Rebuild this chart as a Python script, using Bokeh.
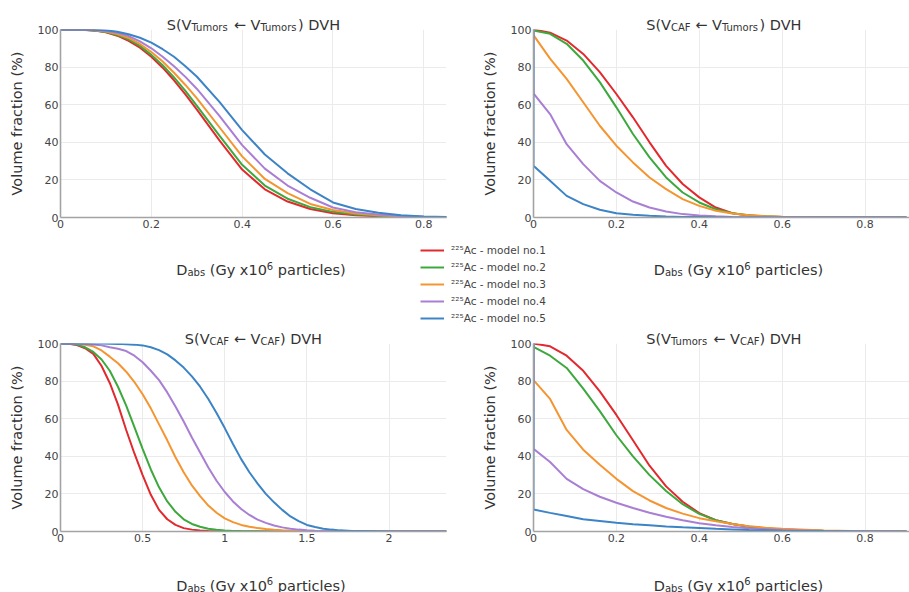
from bokeh.plotting import figure
from bokeh.models import Label, Legend, LegendItem, FixedTicker, NumeralTickFormatter, Range1d
from bokeh.layouts import row, column
from bokeh.embed import file_html
from bokeh.resources import INLINE

# ---------------- data ----------------
model_names = ["²²⁵Ac - model no.1", "²²⁵Ac - model no.2", "²²⁵Ac - model no.3",
               "²²⁵Ac - model no.4", "²²⁵Ac - model no.5"]
model_colors = ["#e2292e", "#3da83d", "#f59531", "#a97fd4", "#3d84c6"]

# S(V_Tumors <- V_Tumors)
tt_dose = [0, 0.05, 0.075, 0.1, 0.125, 0.15, 0.175, 0.2, 0.225, 0.25, 0.275, 0.3, 0.35, 0.4,
           0.45, 0.5, 0.55, 0.6, 0.65, 0.7, 0.75, 0.8, 0.85]
tt_m1 = [100, 99.8, 99.4, 98.5, 96.7, 94, 90.3, 85.5, 79.7, 73, 65.5, 57.5, 41, 25.5,
         15, 8.5, 4.5, 2.3, 1.2, 0.6, 0.3, 0.1, 0.05]
tt_m2 = [100, 99.8, 99.5, 98.7, 97.1, 94.8, 91.3, 86.5, 81, 74.5, 67.3, 59.5, 43.5, 28,
         17, 10, 5.5, 3, 1.6, 0.9, 0.4, 0.2, 0.1]
tt_m3 = [100, 99.8, 99.6, 98.9, 97.6, 95.5, 92.3, 88, 83, 77, 70.5, 63.5, 48, 32.5,
         20.5, 13, 7.2, 4, 2.1, 1.2, 0.6, 0.3, 0.1]
tt_m4 = [100, 99.9, 99.7, 99.2, 98.2, 96.5, 93.7, 90, 85.5, 80.5, 74.8, 68.5, 54, 38.5,
         26, 17, 10.5, 5.3, 2.8, 1.6, 0.8, 0.4, 0.2]
tt_m5 = [100, 100, 99.9, 99.6, 98.8, 97.5, 95.6, 93, 89.5, 85.5, 80.5, 75, 61.5, 46.5,
         33.5, 23.5, 15, 8, 4.5, 2.5, 1.2, 0.5, 0.2]

# S(V_CAF <- V_Tumors)
ct_dose = [0, 0, 0.04, 0.08, 0.12, 0.16, 0.2, 0.24, 0.28, 0.32, 0.36, 0.4, 0.44, 0.48, 0.52, 0.56, 0.6, 0.7, 0.8, 0.9]
ct_m1 = [100, 100, 98.3, 94.1, 87, 77.3, 65.7, 53.3, 40, 27.5, 17.8, 10.7, 5.3, 2.3, 1.0, 0.5, 0.3, 0.1, 0.02, 0]
ct_m2 = [100, 99.5, 97.7, 92.4, 83.5, 72, 58.6, 44.4, 32, 21.3, 13.3, 8, 4.4, 2.3, 1.2, 0.6, 0.3, 0.1, 0.02, 0]
ct_m3 = [100, 97, 84.5, 73.7, 61.3, 48.8, 38.2, 29.3, 21.3, 15.1, 9.8, 6.2, 3.6, 2.1, 1.2, 0.7, 0.4, 0.1, 0, 0]
ct_m4 = [100, 66, 55, 39, 28.4, 19.5, 13.3, 8.5, 5.3, 3.2, 1.8, 1.1, 0.6, 0.3, 0.15, 0.1, 0.05, 0, 0, 0]
ct_m5 = [100, 27.5, 19.5, 11.5, 7.1, 4.1, 2.3, 1.4, 0.9, 0.5, 0.3, 0.2, 0.1, 0.05, 0, 0, 0, 0, 0, 0]

# S(V_CAF <- V_CAF)
cc_dose = [0, 0.05, 0.1, 0.15, 0.2, 0.25, 0.3, 0.35, 0.4, 0.45, 0.5, 0.55, 0.6, 0.65, 0.7, 0.75,
           0.8, 0.85, 0.9, 0.95, 1.0, 1.05, 1.1, 1.15, 1.2, 1.25, 1.3, 1.35, 1.4, 1.45, 1.5, 1.55,
           1.6, 1.65, 1.7, 1.75, 1.8, 2.0, 2.35]
cc_m1 = [100, 99.9, 99.2, 97.5, 94.5, 88, 79, 67.5, 54, 41.5, 30, 19.5, 11.5, 6.5, 3.5, 1.8,
         1.0, 0.5, 0.3, 0.15, 0.1, 0, 0, 0, 0, 0, 0, 0, 0, 0, 0, 0,
         0, 0, 0, 0, 0, 0, 0]
cc_m2 = [100, 99.9, 99.5, 98, 95.5, 91.5, 85.5, 77, 67, 55.5, 44, 33, 23.5, 16, 10.5, 6.5,
         4, 2.5, 1.5, 0.9, 0.5, 0.3, 0.2, 0.15, 0.1, 0.05, 0, 0, 0, 0, 0, 0,
         0, 0, 0, 0, 0, 0, 0]
cc_m3 = [100, 100, 99.8, 99.3, 98.5, 96.3, 93, 89.5, 85, 79.5, 73, 65.5, 57, 48.5, 39.5, 31.5,
         24.5, 18.8, 13.8, 10, 7, 5, 3.5, 2.5, 1.8, 1.3, 0.9, 0.6, 0.4, 0.3, 0.2, 0.15,
         0.1, 0.05, 0, 0, 0, 0, 0]
cc_m4 = [100, 100, 99.9, 99.8, 99.5, 99, 98, 97.2, 96, 93.5, 90, 85.5, 80.5, 74, 66.5, 58.5,
         50, 42, 34, 27, 21, 16, 12, 8.8, 6.3, 4.6, 3.2, 2.2, 1.5, 1.0, 0.7, 0.45,
         0.3, 0.2, 0.1, 0.05, 0, 0, 0]
cc_m5 = [100, 100, 100, 100, 100, 100, 99.9, 99.8, 99.6, 99.4, 99, 98, 96.5, 94.2, 91, 87.2,
         82.5, 77, 70.5, 63, 55, 46.5, 38.5, 31.5, 25.5, 20, 15.5, 11.5, 8, 5.5, 3.5, 2.4,
         1.5, 1.0, 0.6, 0.4, 0.2, 0.05, 0]

# S(V_Tumors <- V_CAF)
tc_dose = [0, 0, 0.04, 0.08, 0.12, 0.16, 0.2, 0.24, 0.28, 0.32, 0.36, 0.4, 0.44, 0.48, 0.52, 0.56, 0.6, 0.7, 0.8, 0.9]
tc_m1 = [100, 100, 98.5, 93.5, 85.5, 74.5, 62, 48.5, 35, 24, 15.8, 9.8, 6, 4, 2.5, 1.6, 1.0, 0.3, 0.1, 0]
tc_m2 = [100, 98.2, 93.5, 87, 76, 64, 51.2, 40, 30, 21.5, 14.5, 9.4, 6, 4, 2.6, 1.7, 1.1, 0.4, 0.1, 0]
tc_m3 = [100, 80.5, 70.5, 54, 43.5, 35.5, 28, 21.5, 16.5, 12.5, 9.5, 7.1, 5.4, 4, 2.8, 2, 1.4, 0.5, 0.15, 0]
tc_m4 = [100, 44, 37, 28, 22.5, 18.5, 15.3, 12.5, 10, 7.8, 6, 4.4, 3.3, 2.4, 1.7, 1.2, 0.8, 0.3, 0.1, 0]
tc_m5 = [100, 11.7, 9.9, 8.2, 6.5, 5.6, 4.6, 3.9, 3.3, 2.7, 2.2, 1.8, 1.4, 1.1, 0.8, 0.6, 0.4, 0.2, 0.05, 0]

ticks_small = [0, 0.2, 0.4, 0.6, 0.8]
ticks_large = [0, 0.5, 1, 1.5, 2]
ticks_y = [0, 20, 40, 60, 80, 100]

title_tt = [("S(V", "n"), ("Tumors", "sub"), (" ← V", "n"), ("Tumors", "sub"), (") DVH", "n")]
title_ct = [("S(V", "n"), ("CAF", "sub"), (" ← V", "n"), ("Tumors", "sub"), (") DVH", "n")]
title_cc = [("S(V", "n"), ("CAF", "sub"), (" ← V", "n"), ("CAF", "sub"), (") DVH", "n")]
title_tc = [("S(V", "n"), ("Tumors", "sub"), (" ← V", "n"), ("CAF", "sub"), (") DVH", "n")]
xlabel = [("D", "n"), ("abs", "sub"), (" (Gy x10", "n"), ("6", "sup"), (" particles)", "n")]
ylabel = "Volume fraction (%)"

# ---------------- styling helpers ----------------
FONT = "DejaVu Sans"
ADV = {' ': 0.318, '(': 0.390, ')': 0.390, 'S': 0.635, 'V': 0.684, 'T': 0.611, 'u': 0.634,
       'm': 0.974, 'o': 0.612, 'r': 0.411, 's': 0.521, '←': 0.838, 'D': 0.770, 'H': 0.752,
       'C': 0.698, 'A': 0.684, 'F': 0.575, 'a': 0.613, 'b': 0.635, 'G': 0.775, 'y': 0.592,
       'x': 0.592, 'p': 0.635, 't': 0.392, 'i': 0.278, 'c': 0.550, 'l': 0.278, 'e': 0.615}


def tw(s, size):
    return sum(ADV.get(c, 0.636) for c in s) * size


def rich(p, parts, cx, baseline, size=14.5, small=10.0):
    """Compose a line of text with sub/superscripts; (cx, baseline) in page pixels."""
    sizes = [size if k == "n" else small for _, k in parts]
    widths = [tw(t, s) for (t, _), s in zip(parts, sizes)]
    x = cx - sum(widths) / 2.0
    for (t, k), s, w in zip(parts, sizes, widths):
        shift = {"n": 0.0, "sub": 2.5, "sup": -4.5}[k]
        lead = len(t) - len(t.lstrip(" "))
        p.add_layout(Label(x=x + lead * ADV[' '] * s, y=baseline + shift,
                           text=t.strip(), text_font=FONT, text_font_size=f"{s}px",
                           text_color="#333333", text_align="left",
                           text_baseline="alphabetic"))
        x += w


def make_fig(xmax, xticks, width, height, ml, mr, mt, mb):
    p = figure(width=width, height=height, x_range=Range1d(0, xmax), y_range=Range1d(0, 100),
               output_backend="svg", toolbar_location=None, title=None,
               min_border_left=ml, min_border_right=mr, min_border_top=mt, min_border_bottom=mb)
    p.outline_line_color = None
    p.background_fill_color = "white"
    p.border_fill_color = "white"
    p.xaxis.ticker = FixedTicker(ticks=xticks)
    p.xaxis.formatter = NumeralTickFormatter(format="0.[0]")
    p.yaxis.ticker = FixedTicker(ticks=ticks_y)
    for ax in (p.xaxis[0], p.yaxis[0]):
        ax.major_tick_out = 0
        ax.major_tick_in = 0
        ax.minor_tick_out = 0
        ax.minor_tick_in = 0
        ax.axis_line_color = "#a3a3a3"
        ax.axis_line_width = 1.6
        ax.major_label_text_font = FONT
        ax.major_label_text_font_size = "11px"
        ax.major_label_text_color = "#444444"
        ax.major_label_standoff = 2
    p.yaxis.axis_label = ylabel
    p.yaxis.axis_label_text_font = FONT
    p.yaxis.axis_label_text_font_style = "normal"
    p.yaxis.axis_label_text_font_size = "14.5px"
    p.yaxis.axis_label_text_color = "#333333"
    p.yaxis.axis_label_standoff = 10
    p.grid.grid_line_color = "#ebebeb"
    p.grid.grid_line_width = 1
    return p


def add_curves(p, xs, series):
    return [p.line(xs, ys, line_color=c, line_width=2) for ys, c in zip(series, model_colors)]


xr_small = 377 / 415.5

# plot panels (page pixels: top frames y 29..217, bottom frames y 343..531)
p1 = make_fig(0.85, ticks_small, 478, 318, 60, 32, 29, 101)
add_curves(p1, tt_dose, [tt_m1, tt_m2, tt_m3, tt_m4, tt_m5])

p2 = make_fig(xr_small, ticks_small, 431, 318, 54, 0, 29, 101)
add_curves(p2, ct_dose, [ct_m1, ct_m2, ct_m3, ct_m4, ct_m5])

p3 = make_fig(2.35, ticks_large, 478, 274, 60, 32, 25, 61)
add_curves(p3, cc_dose, [cc_m1, cc_m2, cc_m3, cc_m4, cc_m5])

p4 = make_fig(xr_small, ticks_small, 431, 274, 54, 0, 25, 61)
add_curves(p4, tc_dose, [tc_m1, tc_m2, tc_m3, tc_m4, tc_m5])

# transparent overlay carrying titles, x-axis titles and the shared legend
ov = figure(width=909, height=592, x_range=Range1d(0, 909), y_range=Range1d(592, 0),
            output_backend="svg", toolbar_location=None, title=None,
            x_axis_type=None, y_axis_type=None,
            min_border_left=0, min_border_right=0, min_border_top=0, min_border_bottom=0)
ov.outline_line_color = None
ov.background_fill_alpha = 0
ov.border_fill_alpha = 0
ov.margin = (-592, 0, 0, 0)

rich(ov, title_tt, 253, 24)
rich(ov, title_ct, 723.5, 24)
rich(ov, title_cc, 253, 338.5)
rich(ov, title_tc, 723.5, 338.5)
rich(ov, xlabel, 260.5, 269.5)
rich(ov, xlabel, 738, 269.5)
rich(ov, xlabel, 260.5, 585)
rich(ov, xlabel, 738, 585)

nan = float("nan")
leg_renderers = [ov.line(x=[nan], y=[nan], line_color=c, line_width=2) for c in model_colors]
legend = Legend(items=[LegendItem(label=n, renderers=[r]) for n, r in zip(model_names, leg_renderers)],
                location=(420, 266), orientation="vertical", padding=0, margin=0, spacing=1,
                glyph_width=24, glyph_height=16, label_height=16, label_standoff=7,
                label_text_font=FONT, label_text_font_size="10.5px", label_text_color="#444444",
                border_line_alpha=0, background_fill_alpha=0)
ov.add_layout(legend)

layout = column(row(p1, p2), row(p3, p4), ov)

with open("out.html", "w") as f:
    f.write(file_html(layout, INLINE))
